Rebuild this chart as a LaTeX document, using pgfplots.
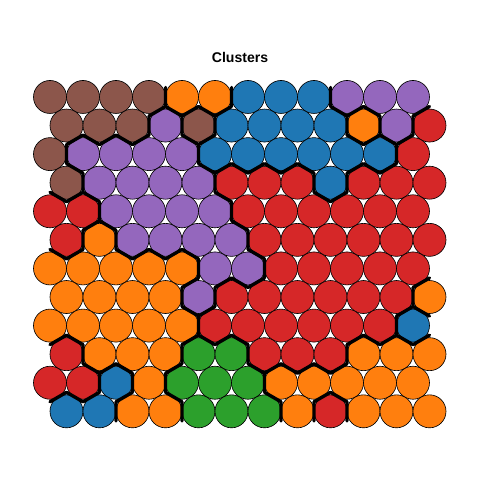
\documentclass[border=0pt]{standalone}
\usepackage{pgfplots}
\pgfplotsset{compat=1.18}
\usepackage{fontspec}
\setmainfont{Liberation Sans}
\definecolor{cB}{HTML}{8C564B}
\definecolor{cO}{HTML}{FF7F0E}
\definecolor{cL}{HTML}{1F77B4}
\definecolor{cP}{HTML}{9467BD}
\definecolor{cR}{HTML}{D62728}
\definecolor{cG}{HTML}{2CA02C}
% cluster of each map unit: rows from top to bottom, columns left to right
% B=brown O=orange L=blue P=purple R=red G=green
\def\grid{%
{B,B,B,B,O,O,L,L,L,P,P,P},%
{B,B,B,P,B,L,L,L,L,O,P,R},%
{B,P,P,P,P,L,L,L,L,L,L,R},%
{B,P,P,P,P,R,R,R,L,R,R,R},%
{R,R,P,P,P,P,R,R,R,R,R,R},%
{R,O,P,P,P,P,R,R,R,R,R,R},%
{O,O,O,O,O,P,P,R,R,R,R,R},%
{O,O,O,O,P,R,R,R,R,R,R,O},%
{O,O,O,O,O,R,R,R,R,R,R,L},%
{R,O,O,O,G,G,R,R,R,O,O,O},%
{R,R,L,O,G,G,G,O,O,O,O,O},%
{L,L,O,O,G,G,G,O,R,O,O,O}}
\gdef\ptsB{}\gdef\ptsO{}\gdef\ptsL{}\gdef\ptsP{}\gdef\ptsR{}\gdef\ptsG{}
\foreach \rw [count=\ii] in \grid {%
  \pgfmathtruncatemacro\jj{12-\ii}%
  \foreach \v [count=\cc] in \rw {%
    \expandafter\xdef\csname cl\jj X\cc\endcsname{\v}%
    \pgfmathsetmacro\px{\cc+0.5*(1-mod(\jj,2))}%
    \pgfmathsetmacro\py{\jj*0.8660254}%
    \expandafter\xdef\csname pts\v\endcsname{\csname pts\v\endcsname(\px,\py) }%
  }%
}
\newcommand\getcl[3]{\expandafter\let\expandafter#1\csname cl#2X#3\endcsname}
\gdef\segs{}
\foreach \jj in {0,...,11}{%
  \foreach \cc in {1,...,12}{%
    \pgfmathsetmacro\px{\cc+0.5*(1-mod(\jj,2))}%
    \pgfmathsetmacro\py{\jj*0.8660254}%
    \pgfmathsetmacro\ya{\py-0.2886751}%
    \pgfmathsetmacro\yb{\py+0.2886751}%
    \pgfmathsetmacro\yc{\py+0.5773503}%
    \pgfmathsetmacro\xr{\px+0.5}%
    \pgfmathsetmacro\xl{\px-0.5}%
    \getcl\me{\jj}{\cc}%
    \ifnum\cc<12
      \pgfmathtruncatemacro\cn{\cc+1}%
      \getcl\nb{\jj}{\cn}%
      \ifx\me\nb\else\xdef\segs{\segs (\xr,\ya) (\xr,\yb) (\xr,nan) }\fi
    \fi
    \ifnum\jj<11
      \pgfmathtruncatemacro\jn{\jj+1}%
      \ifodd\jj
        \pgfmathtruncatemacro\cul{\cc-1}\pgfmathtruncatemacro\cur{\cc}%
      \else
        \pgfmathtruncatemacro\cul{\cc}\pgfmathtruncatemacro\cur{\cc+1}%
      \fi
      \ifnum\cur<13
        \getcl\nb{\jn}{\cur}%
        \ifx\me\nb\else\xdef\segs{\segs (\xr,\yb) (\px,\yc) (\px,nan) }\fi
      \fi
      \ifnum\cul>0
        \getcl\nb{\jn}{\cul}%
        \ifx\me\nb\else\xdef\segs{\segs (\px,\yc) (\xl,\yb) (\xl,nan) }\fi
      \fi
    \fi
  }%
}
\begin{document}
\begin{tikzpicture}
\begin{axis}[
  set layers,
  x=0.825cm, y=0.825cm,
  xmin=-0.5152, xmax=14.0303,
  ymin=-2.080, ymax=12.465,
  axis line style={draw=none},
  ticks=none,
  clip=false,
]
\foreach \k in {B,O,L,P,R,G}{%
  \edef\tmp{\noexpand\addplot[only marks, mark=*, mark size=0.4125cm,
    mark options={fill=c\k, draw=black, line width=0.45pt}]
    coordinates {\csname pts\k\endcsname};}%
  \tmp
}
\edef\tmp{\noexpand\addplot[on layer=axis foreground, black, line width=2.4pt, line cap=round,
  unbounded coords=jump, no markers] coordinates {\segs};}
\tmp
\node[font=\bfseries\fontsize{10}{12}\selectfont] at (axis cs:6.758,10.708) {Clusters};
\end{axis}
\end{tikzpicture}
\end{document}
